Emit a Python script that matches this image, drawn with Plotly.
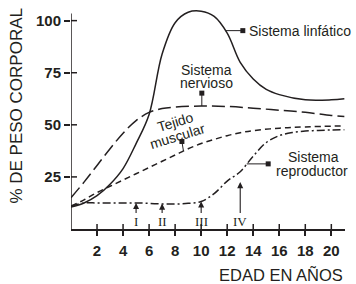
import numpy as np
import plotly.graph_objects as go

# ---------------- data ----------------
edad_linf = [0, 1, 2, 3, 4, 5, 6, 7, 8, 9, 10, 11, 12, 13, 14, 15, 16, 18, 20, 21]
linfatico = [10.5, 12.5, 16, 21.5, 29, 41, 55, 84, 99, 104, 104.5, 102, 94, 80, 72, 67, 64.5, 62, 62, 62.5]

edad_nerv = [0, 1, 2, 3, 4, 5, 6, 7, 8, 10, 12, 14, 16, 18, 20, 21]
nervioso = [15, 22.5, 30.5, 38.5, 46, 52, 56, 57.8, 58.5, 59, 58.8, 58, 57, 56, 54.5, 54]

edad_musc = [0, 1, 2, 3, 4, 5, 6, 7, 8, 9, 10, 11, 12, 13, 14, 16, 18, 21]
muscular = [11, 14, 17.5, 20.5, 23.5, 26.5, 29.5, 32.5, 35.5, 38.5, 41, 43, 44.8, 46.2, 47.2, 48.4, 49, 49.5]

edad_repr = [0, 1, 2, 3, 4, 5, 6, 7, 8, 9, 10, 11, 12, 13, 14, 15, 16, 17, 18, 19, 20, 21]
reproductor = [11, 12.5, 12.5, 12.5, 12.5, 12.5, 12.3, 12, 12, 12.3, 13.2, 17, 23, 27.5, 35, 41.5, 44.8, 46.3, 47, 47.3, 47.5, 47.6]

hitos_edad = [5, 7, 10, 13]
hitos_valor = [12.5, 12.2, 13.2, 22.5]
hitos_texto = ["I", "II", "III", "IV"]

x_ticks = [2, 4, 6, 8, 10, 12, 14, 16, 18, 20]
x_ticktext = ["2", "4", "6", "8", "10", "12", "14", "16", "18", "20"]
y_ticks = [25, 50, 75, 100]
y_ticktext = ["25", "50", "75", "100"]

# ---------------- style ----------------
INK = "#231f20"
FONT = "Liberation Sans"
X_RANGE = [0, 21.05]
Y_RANGE = [0, 107.5]
Y_AXIS_TOP = 103.4

fig = go.Figure()

def curve(x, y, dash):
    fig.add_trace(go.Scatter(
        x=x, y=y, mode="lines", line=dict(color=INK, width=1.5, dash=dash, shape="spline", smoothing=1),
        cliponaxis=False, hoverinfo="skip", showlegend=False))

curve(edad_linf, linfatico, "solid")
curve(edad_nerv, nervioso, "13px,5px")
curve(edad_musc, muscular, "6px,4px")
curve(edad_repr, reproductor, "8px,3px,2px,3px")

# ---------------- label connectors ----------------
def interp(xs, ys, x):
    return float(np.interp(x, xs, ys))

sq_x, sq_y = [], []
shapes = []

def connector(xc, yc, xs, ys):
    shapes.append(dict(type="line", xref="x", yref="y", x0=xc, y0=yc, x1=xs, y1=ys,
                       line=dict(color=INK, width=1)))
    sq_x.append(xs)
    sq_y.append(ys)

y_l = interp(edad_linf, linfatico, 11.85)
connector(11.85, y_l, 13.2, y_l)
connector(10.05, interp(edad_nerv, nervioso, 10.05), 10.05, 65.2)
connector(8.64, interp(edad_musc, muscular, 8.64), 8.52, 42)
y_r = interp(edad_repr, reproductor, 13.5)
connector(13.5, y_r, 15.15, y_r)

fig.add_trace(go.Scatter(x=sq_x, y=sq_y, mode="markers",
                         marker=dict(symbol="square", size=5, color=INK),
                         cliponaxis=False, hoverinfo="skip", showlegend=False))

# y axis line (stops at the axis top, below the lymphatic peak)
shapes.append(dict(type="line", xref="x", yref="y", x0=0, x1=0, y0=0, y1=Y_AXIS_TOP,
                   line=dict(color=INK, width=1.5)))

# inner halves of crossing tick marks
for t in x_ticks:
    shapes.append(dict(type="line", xref="x", yref="y", ysizemode="pixel", yanchor=0,
                       x0=t, x1=t, y0=0, y1=5, line=dict(color=INK, width=1.5)))
for t in y_ticks:
    shapes.append(dict(type="line", xref="x", yref="y", xsizemode="pixel", xanchor=0,
                       x0=0, x1=6, y0=t, y1=t, line=dict(color=INK, width=1.5)))

annotations = []

def label(text, x, y, xanchor="center", angle=0, size=14):
    annotations.append(dict(text=text, x=x, y=y, xref="x", yref="y", showarrow=False,
                            xanchor=xanchor, yanchor="middle", textangle=angle,
                            font=dict(family=FONT, size=size, color=INK)))

label("Sistema linfático", 13.55, y_l, xanchor="left")
label("Sistema", 10.38, 76.4)
label("nervioso", 10.38, 70.2)
label("Tejido", 8.0, 51.4, angle=-17)
label("muscular", 8.19, 44.5, angle=-17)
label("Sistema", 18.6, 34.6)
label("reproductor", 18.55, 27.9)

# milestone arrows
for hx, hv, ht in zip(hitos_edad, hitos_valor, hitos_texto):
    annotations.append(dict(text=ht, x=hx, y=hv, xref="x", yref="y",
                            axref="pixel", ax=0, ayref="y", ay=3.4,
                            showarrow=True, arrowhead=2, arrowsize=1.1, arrowwidth=1.1,
                            arrowcolor=INK, standoff=0,
                            font=dict(family="Liberation Serif", size=13, color=INK)))

# axis titles (paper coordinates so they are not hidden off-range)
annotations.append(dict(text="% DE PESO CORPORAL", x=-0.197, y=0.551, xref="paper", yref="paper",
                        showarrow=False, textangle=-90, xanchor="center", yanchor="middle",
                        font=dict(family=FONT, size=17, color=INK)))
annotations.append(dict(text="EDAD EN AÑOS", x=1.0, y=-0.205, xref="paper", yref="paper",
                        showarrow=False, xanchor="right", yanchor="middle",
                        font=dict(family=FONT, size=16.5, color=INK)))

fig.update_layout(
    width=356, height=284,
    margin=dict(l=71, r=11, t=5, b=55),
    paper_bgcolor="white", plot_bgcolor="white",
    shapes=shapes, annotations=annotations,
    xaxis=dict(range=X_RANGE, showgrid=False, zeroline=False, showline=True,
               linecolor=INK, linewidth=1.5, ticks="outside", ticklen=5, tickwidth=1.5,
               tickcolor=INK, tickvals=x_ticks, ticktext=x_ticktext, ticklabelstandoff=2,
               tickfont=dict(family=FONT, size=15, color=INK, weight="bold"),
               fixedrange=True),
    yaxis=dict(range=Y_RANGE, showgrid=False, zeroline=False, showline=False,
               ticks="outside", ticklen=6, tickwidth=1.5,
               tickcolor=INK, tickvals=y_ticks, ticktext=y_ticktext,
               tickfont=dict(family=FONT, size=15, color=INK, weight="bold"),
               fixedrange=True),
)

fig.write_html("out.html", config={"displayModeBar": False},
               post_script="document.body.style.margin='0';")
